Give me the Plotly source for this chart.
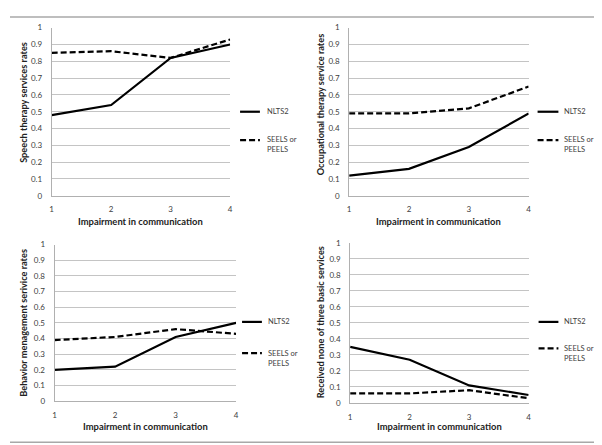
import plotly.graph_objects as go

x_levels = [1, 2, 3, 4]

speech_nlts2 = [0.48, 0.54, 0.82, 0.90]
speech_seels = [0.85, 0.86, 0.82, 0.93]
occup_nlts2 = [0.12, 0.16, 0.29, 0.49]
occup_seels = [0.49, 0.49, 0.52, 0.65]
behav_nlts2 = [0.20, 0.22, 0.41, 0.50]
behav_seels = [0.39, 0.41, 0.46, 0.43]
none_nlts2 = [0.35, 0.27, 0.11, 0.05]
none_seels = [0.06, 0.06, 0.08, 0.03]

y_titles = [
    "Speech therapy services rates",
    "Occupational therapy service rates",
    "Behavior menagement serivice rates",
    "Received none of three basic services",
]
x_title = "Impairment in communication"
series_names = ["NLTS2", "SEELS or<br>PEELS"]
y_ticks = [0, 0.1, 0.2, 0.3, 0.4, 0.5, 0.6, 0.7, 0.8, 0.9, 1]
y_ticktext = ["0", "0.1", "0.2", "0.3", "0.4", "0.5", "0.6", "0.7", "0.8", "0.9", "1"]

W, H = 602, 445
FONT = "Lato"

# panel pixel boxes: (x_left, x_right, y_top, y_bottom)
panels = [
    (42, 222, 15, 187),
    (342, 523, 15, 187),
    (45, 228, 237, 397),
    (343, 523, 235, 399),
]
data = [
    (speech_nlts2, speech_seels),
    (occup_nlts2, occup_seels),
    (behav_nlts2, behav_seels),
    (none_nlts2, none_seels),
]
# legend positions (line x0, line x1, text x, y_nlts, y_seels)
legend_pos = [
    (232, 252, 257, 101, 135),
    (532, 553, 557, 101, 135),
    (234, 254, 258, 316, 353),
    (533, 553, 557, 316, 348),
]
ytitle_x = [14, 314, 14, 314]
ytitle_yc = [91, 93, 317, 316]
xtitle_y = [213, 213, 423, 423]

def px(x):
    return x / W

def py(y):
    return 1 - y / H

fig = go.Figure()
layout = dict(
    width=W, height=H,
    margin=dict(l=0, r=0, t=0, b=0),
    paper_bgcolor="white", plot_bgcolor="white",
    showlegend=False,
    font=dict(family=FONT, size=8, color="#404040"),
)
annotations = []
shapes = []

for i, ((xl, xr, yt, yb), (s1, s2)) in enumerate(zip(panels, data)):
    n = "" if i == 0 else str(i + 1)
    xa = "x" + n
    ya = "y" + n
    fig.add_trace(go.Scatter(x=x_levels, y=s2, mode="lines", xaxis=xa, yaxis=ya,
                             line=dict(color="black", width=2.2, dash="6px,3px"),
                             name="SEELS or PEELS"))
    fig.add_trace(go.Scatter(x=x_levels, y=s1, mode="lines", xaxis=xa, yaxis=ya,
                             line=dict(color="black", width=2.2), name="NLTS2"))
    layout["xaxis" + n] = dict(
        domain=[px(xl), px(xr)], anchor=ya, range=[1, 4],
        tickvals=x_levels, ticktext=[str(v) for v in x_levels],
        showgrid=False, zeroline=False, showline=True, linecolor="#b0b0b0", linewidth=1,
        ticks="", ticklabelstandoff=6,
        tickfont=dict(size=8, family=FONT, color="#404040"),
    )
    layout["yaxis" + n] = dict(
        domain=[py(yb), py(yt)], anchor=xa, range=[0, 1],
        tickvals=y_ticks, ticktext=y_ticktext,
        showgrid=True, gridcolor="#c4c4c4", gridwidth=1,
        zeroline=False, showline=True, linecolor="#b0b0b0", linewidth=1,
        ticks="", ticklabelstandoff=7,
        tickfont=dict(size=8, family=FONT, color="#404040"),
    )
    # axis titles
    annotations.append(dict(
        x=px(ytitle_x[i]), y=py(ytitle_yc[i]), xref="paper", yref="paper",
        text="<b>" + y_titles[i] + "</b>", textangle=-90, showarrow=False,
        xanchor="center", yanchor="middle",
        font=dict(size=9.2, family=FONT, color="#222")))
    annotations.append(dict(
        x=px((xl + xr) / 2), y=py(xtitle_y[i]), xref="paper", yref="paper",
        text="<b>" + x_title + "</b>", showarrow=False,
        xanchor="center", yanchor="middle",
        font=dict(size=9.4, family=FONT, color="#222")))
    # legend
    lx0, lx1, tx, yn, ys = legend_pos[i]
    shapes.append(dict(type="line", xref="paper", yref="paper",
                       x0=px(lx0), x1=px(lx1), y0=py(yn), y1=py(yn),
                       line=dict(color="black", width=2.2)))
    shapes.append(dict(type="line", xref="paper", yref="paper",
                       x0=px(lx0), x1=px(lx1), y0=py(ys - 5), y1=py(ys - 5),
                       line=dict(color="black", width=2.2, dash="6px,3px")))
    annotations.append(dict(
        x=px(tx), y=py(yn), xref="paper", yref="paper", text=series_names[0],
        showarrow=False, xanchor="left", yanchor="middle",
        font=dict(size=7.5, family=FONT, color="#404040")))
    annotations.append(dict(
        x=px(tx), y=py(ys), xref="paper", yref="paper", text=series_names[1],
        showarrow=False, xanchor="left", yanchor="middle", align="left",
        font=dict(size=7.5, family=FONT, color="#404040")))

# outer grey frame (open on the left)
frame = dict(color="#a8a8a8", width=1.5)
shapes.append(dict(type="line", xref="paper", yref="paper", x0=0, x1=px(596), y0=py(4), y1=py(4), line=frame))
shapes.append(dict(type="line", xref="paper", yref="paper", x0=px(596), x1=px(596), y0=py(4), y1=py(439), line=frame))
shapes.append(dict(type="line", xref="paper", yref="paper", x0=0, x1=px(596), y0=py(439), y1=py(439), line=frame))

layout["annotations"] = annotations
layout["shapes"] = shapes
fig.update_layout(**layout)
fig.write_html("out.html")
